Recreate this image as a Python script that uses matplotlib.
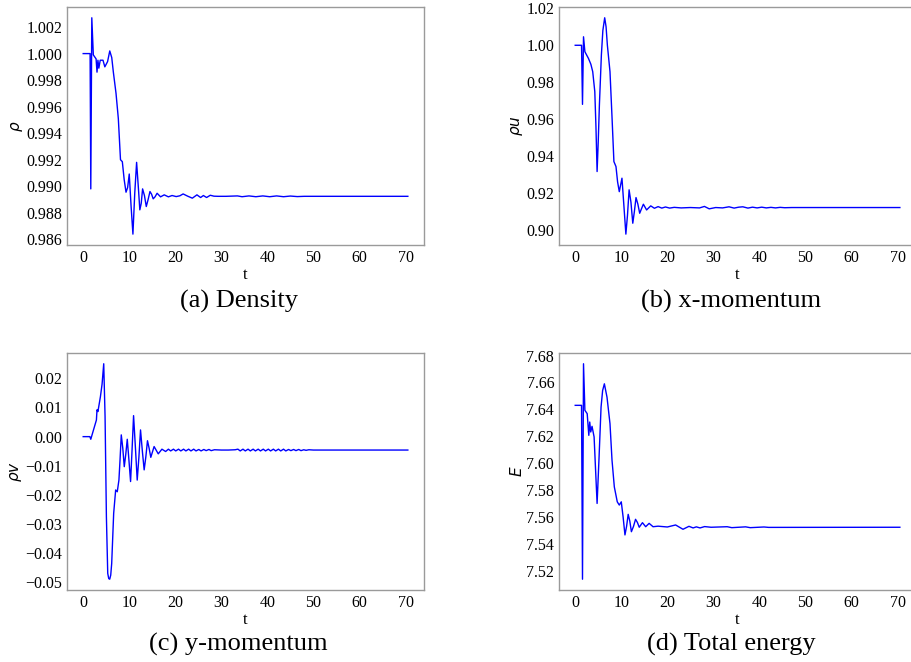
import matplotlib
matplotlib.use("Agg")
import matplotlib.pyplot as plt
from matplotlib.ticker import MultipleLocator

# density
t_rho = [0, 1.5, 1.65, 1.87, 2.2, 2.8, 3.0, 3.2, 3.4, 3.7, 4.3, 4.7, 5.3, 5.77, 6.2,
         6.55, 7.13, 7.63, 8.1, 8.5, 8.9, 9.3, 9.65, 10.0, 10.4, 10.8, 11.2, 11.6,
         12.0, 12.3, 12.6, 12.9, 13.3, 13.7, 14.1, 14.5, 14.85, 15.2, 15.6, 16.05,
         16.8, 17.6, 18.5, 19.3, 20.2, 21.0, 21.7, 22.7, 23.7, 24.7, 25.5, 26.1,
         26.8, 27.6, 28.4, 29.3, 31.0, 33.5, 34.5, 36.0, 37.5, 39.0, 40.5, 42.0,
         43.5, 45.0, 46.5, 48.0, 70.5]
rho = [1.0000, 1.0000, 0.9898, 1.0027, 0.9999, 0.9996, 0.9986, 0.9995, 0.9989,
       0.9995, 0.9995, 0.9990, 0.9994, 1.0002, 0.9997, 0.9986, 0.9970, 0.9951,
       0.9920, 0.99185, 0.9905, 0.98955, 0.9899, 0.99092, 0.9885, 0.98639, 0.9895,
       0.9918, 0.9898, 0.98822, 0.9887, 0.9898, 0.9893, 0.98847, 0.9890, 0.9896,
       0.9894, 0.98905, 0.9892, 0.98947, 0.9892, 0.98935, 0.9892, 0.9893,
       0.98922, 0.98928, 0.98942, 0.98925, 0.9891, 0.98935, 0.98915, 0.9893,
       0.98915, 0.98932, 0.98925, 0.98924, 0.98924, 0.98927, 0.98921, 0.98927,
       0.98921, 0.98927, 0.98921, 0.98927, 0.98921, 0.98926, 0.98922, 0.98924,
       0.98924]

# x-momentum
t_rhou = [0, 1.37, 1.58, 1.8, 2.1, 2.87, 3.4, 3.8, 4.25, 4.5, 4.75, 5.0, 5.25,
          5.68, 6.0, 6.4, 6.7, 6.98, 7.55, 8.0, 8.4, 8.85, 9.2, 9.57, 10.15,
          10.6, 11.0, 11.35, 11.7, 12.1, 12.5, 12.85, 13.2, 13.6, 14.0, 14.4, 14.8,
          15.5, 16.4, 17.2, 18.0, 18.8, 19.6, 20.5, 21.5, 23.0, 25.0, 27.0, 28.06,
          29.1, 30.5, 32.0, 33.4, 34.5, 35.5, 36.4, 37.5, 38.5, 39.5, 40.5, 41.5,
          42.5, 43.5, 44.5, 45.5, 47.0, 70.5]
rhou = [1.000, 1.000, 0.968, 1.0046, 0.9965, 0.9929, 0.9897, 0.9857, 0.9749,
        0.9560, 0.9316, 0.9480, 0.9677, 0.9947, 1.0080, 1.0149, 1.0100, 1.0001,
        0.9857, 0.9605, 0.9370, 0.9343, 0.9260, 0.9207, 0.9280, 0.9120, 0.8977,
        0.9080, 0.9217, 0.9150, 0.9036, 0.9100, 0.9175, 0.9140, 0.9090, 0.9115,
        0.9139, 0.9108, 0.9130, 0.9117, 0.9126, 0.9118, 0.9124, 0.9118, 0.9122,
        0.9119, 0.9121, 0.9119, 0.9127, 0.9114, 0.9121, 0.9119, 0.9125, 0.9118,
        0.9123, 0.9125, 0.9118, 0.9123, 0.9119, 0.9123, 0.9119, 0.9122, 0.9119,
        0.9122, 0.9120, 0.9121, 0.9121]

# y-momentum
t_rhov = [0, 1.45, 1.65, 1.85, 2.87, 3.0, 3.2, 3.74, 4.1, 4.46, 4.75, 5.04, 5.33,
          5.55, 5.76, 5.98, 6.19, 6.62, 7.05, 7.4, 7.76, 8.0, 8.27, 8.6, 8.92,
          9.25, 9.57, 9.93, 10.29, 10.6, 10.94, 11.35, 11.73, 12.1, 12.45, 12.85,
          13.24, 13.6, 13.96, 14.32, 14.68, 15.4, 16.3, 17.1, 17.9, 18.5, 19.0,
          19.6, 20.1, 20.7, 21.2, 21.8, 22.3, 22.9, 23.4, 24.0, 24.5, 25.1, 25.6,
          26.2, 26.7, 27.3, 27.8, 28.5, 30.0, 31.5, 33.0, 33.6, 34.1, 34.7, 35.2,
          35.8, 36.3, 36.9, 37.4, 38.0, 38.5, 39.1, 39.6, 40.2, 40.7, 41.3, 41.8,
          42.4, 42.9, 43.5, 44.0, 44.6, 45.1, 45.7, 46.2, 46.8, 47.3, 47.9, 48.4,
          49.0, 50.0, 70.5]
rhov = [0.0000, 0.0000, -0.0009, 0.0002, 0.0057, 0.0092, 0.0086, 0.0137, 0.0180,
        0.0250, 0.0069, -0.0275, -0.0469, -0.0487, -0.0489, -0.0475, -0.0435,
        -0.0263, -0.0183, -0.0189, -0.0149, -0.0080, 0.0006, -0.0040, -0.0103,
        -0.0060, -0.0009, -0.0080, -0.0154, -0.0050, 0.0072, -0.0040, -0.0149,
        -0.0070, 0.0023, -0.0050, -0.0114, -0.0070, -0.0014, -0.0040, -0.0071,
        -0.0034, -0.0059, -0.0043, -0.0051, -0.0043, -0.0049, -0.0043, -0.0049,
        -0.0043, -0.0049, -0.0043, -0.0049, -0.0043, -0.0049, -0.0043, -0.0049,
        -0.0044, -0.0049, -0.0044, -0.0048, -0.0044, -0.0048, -0.0045, -0.0046,
        -0.0046, -0.0045, -0.0043, -0.0049, -0.0043, -0.0049, -0.0043, -0.0049,
        -0.0043, -0.0049, -0.0043, -0.0049, -0.0043, -0.0049, -0.0043, -0.0049,
        -0.0043, -0.0049, -0.0043, -0.0049, -0.0043, -0.0049, -0.0044, -0.0048,
        -0.0044, -0.0048, -0.0044, -0.0048, -0.0045, -0.0047, -0.0045, -0.0046,
        -0.0046]

# total energy
t_E = [0, 1.37, 1.58, 1.8, 2.1, 2.6, 2.95, 3.15, 3.37, 3.65, 4.1, 4.39, 4.75,
       5.18, 5.61, 5.95, 6.33, 6.9, 7.55, 7.99, 8.49, 9.13, 9.57, 10.0, 10.4,
       10.8, 11.15, 11.5, 11.85, 12.2, 12.65, 13.1, 13.5, 13.9, 14.6, 15.3,
       16.05, 16.9, 18.0, 20.0, 21.8, 23.4, 24.7, 25.6, 26.3, 27.1, 28.1, 29.5,
       33.0, 34.0, 37.0, 38.0, 41.0, 42.0, 70.5]
E = [7.6430, 7.6430, 7.5138, 7.6739, 7.6393, 7.6368, 7.6207, 7.6306, 7.6232,
     7.6274, 7.6195, 7.5973, 7.5701, 7.6047, 7.6417, 7.6540, 7.6590, 7.6491,
     7.6294, 7.6022, 7.5824, 7.5713, 7.5689, 7.5713, 7.5600, 7.5467, 7.5530,
     7.5620, 7.5570, 7.5491, 7.5530, 7.5583, 7.5560, 7.5524, 7.5558, 7.5528,
     7.5553, 7.5528, 7.5532, 7.5526, 7.5541, 7.5509, 7.5531, 7.5519, 7.5527,
     7.5519, 7.5529, 7.5524, 7.5528, 7.5521, 7.5527, 7.5521, 7.5526, 7.5523,
     7.5524]

panels = [
    (t_rho, rho, r'$\rho$', '(a) Density', 0.002),
    (t_rhou, rhou, r'$\rho u$', '(b) x-momentum', 0.02),
    (t_rhov, rhov, r'$\rho v$', '(c) y-momentum', 0.01),
    (t_E, E, r'$E$', '(d) Total energy', 0.02),
]

# axes boxes in figure fraction (left, bottom, width, height)
boxes = [
    [0.0735, 0.630, 0.392, 0.3595],
    [0.6136, 0.630, 0.392, 0.3595],
    [0.0735, 0.1088, 0.392, 0.358],
    [0.6136, 0.1088, 0.392, 0.358],
]
caption_pos = [(0.262, 0.536), (0.803, 0.536), (0.262, 0.018), (0.803, 0.018)]

serif = 'Liberation Serif'
fig = plt.figure(figsize=(9.11, 6.62), dpi=100)

for (t, y, ylab, cap, step), box, cpos in zip(panels, boxes, caption_pos):
    ax = fig.add_axes(box)
    ax.plot(t, y, color='#0000ff', lw=1.0)
    ax.xaxis.set_major_locator(MultipleLocator(10))
    ax.yaxis.set_major_locator(MultipleLocator(step))
    for s in ax.spines.values():
        s.set_color('#9a9a9a')
        s.set_linewidth(1.0)
    ax.tick_params(length=0, pad=3.5, labelsize=11.5)
    for lbl in ax.get_xticklabels() + ax.get_yticklabels():
        lbl.set_family(serif)
    ax.set_xlabel('t', family=serif, fontsize=12, labelpad=1)
    ax.set_ylabel(ylab, fontsize=11, labelpad=1)
    fig.text(cpos[0], cpos[1], cap, family=serif, fontsize=19, ha='center', va='baseline')

fig.savefig('out.png', dpi=100)
